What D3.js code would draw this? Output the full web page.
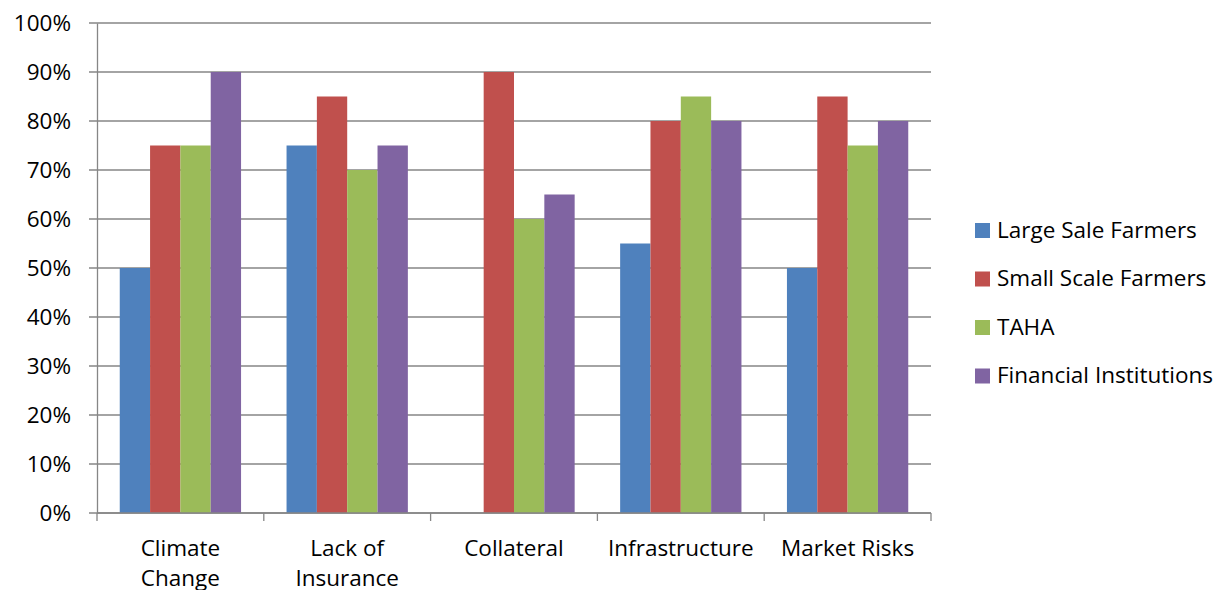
<!DOCTYPE html>
<html>
<head>
<meta charset="utf-8">
<script src="https://cdn.jsdelivr.net/npm/d3@7"></script>
<style>
  html, body { margin: 0; padding: 0; background: #fff; }
  svg { display: block; font-family: "Open Sans", "Noto Sans", sans-serif; }
</style>
</head>
<body>
<svg id="chart" width="1222" height="590"></svg>
<script>
// Chart data
const categories = ["Climate Change", "Lack of Insurance", "Collateral", "Infrastructure", "Market Risks"];
const seriesNames = ["Large Sale Farmers", "Small Scale Farmers", "TAHA", "Financial Institutions"];
const largeSale = [50, 75, 0, 55, 50];
const smallScale = [75, 85, 90, 80, 85];
const taha = [75, 70, 60, 85, 75];
const financial = [90, 75, 65, 80, 80];
const yTicks = [0, 10, 20, 30, 40, 50, 60, 70, 80, 90, 100];
const colors = ["#4F81BD", "#C0504D", "#9BBB59", "#8064A2"];

const seriesValues = [largeSale, smallScale, taha, financial];

const svg = d3.select("#chart");
const margin = { left: 97, right: 291, top: 23, bottom: 77 };
const W = 1222, H = 590;
const x0 = margin.left, x1 = W - margin.right;
const yTop = margin.top, yBot = H - margin.bottom;
const fontSize = 22.5;

const x = d3.scaleBand().domain(categories).range([x0, x1]).paddingInner(0).paddingOuter(0);
// Bars fill 4 slots with a 150% gap width split across both sides
const slot = x.bandwidth() / (4 + 1.5);
const xs = d3.scaleBand().domain(seriesNames).range([slot * 0.75, slot * 4.75]).padding(0);
const y = d3.scaleLinear().domain([0, 100]).range([yBot, yTop]);

const gridColor = "#868686";

// Horizontal gridlines
svg.append("g")
  .selectAll("line")
  .data(yTicks)
  .join("line")
  .attr("x1", x0 - 8).attr("x2", x1)
  .attr("y1", d => y(d)).attr("y2", d => y(d))
  .attr("stroke", gridColor).attr("stroke-width", 1.3);

// Bars
const groups = svg.append("g")
  .selectAll("g")
  .data(categories)
  .join("g")
  .attr("transform", c => `translate(${x(c)},0)`);

groups.selectAll("rect")
  .data((c, i) => seriesNames.map((s, j) => ({ s, j, v: seriesValues[j][i] })))
  .join("rect")
  .attr("x", d => xs(d.s))
  .attr("width", xs.bandwidth())
  .attr("y", d => y(d.v))
  .attr("height", d => y(0) - y(d.v))
  .attr("fill", d => colors[d.j]);

// Y axis
const yAxis = d3.axisLeft(y).tickValues(yTicks).tickFormat(d => d + "%").tickSize(0).tickPadding(26);
const gy = svg.append("g").attr("transform", `translate(${x0},0)`).call(yAxis);
gy.select(".domain").attr("stroke", gridColor).attr("stroke-width", 1.3);
gy.selectAll("text").attr("font-size", fontSize).attr("fill", "#000").attr("font-family", "Open Sans, sans-serif");

// X axis baseline with ticks at category boundaries
const gx = svg.append("g");
gx.append("line")
  .attr("x1", x0).attr("x2", x1).attr("y1", yBot).attr("y2", yBot)
  .attr("stroke", gridColor).attr("stroke-width", 1.3);
const boundaries = categories.map(c => x(c)).concat([x1]);
gx.selectAll("line.tick")
  .data(boundaries)
  .join("line")
  .attr("class", "tick")
  .attr("x1", d => d).attr("x2", d => d)
  .attr("y1", yBot).attr("y2", yBot + 8)
  .attr("stroke", gridColor).attr("stroke-width", 1.3);

// Category labels (wrapped into two lines where needed)
const labelLines = {
  "Climate Change": ["Climate", "Change"],
  "Lack of Insurance": ["Lack of", "Insurance"],
  "Collateral": ["Collateral"],
  "Infrastructure": ["Infrastructure"],
  "Market Risks": ["Market Risks"]
};
const lbl = svg.append("g").attr("font-size", fontSize).attr("fill", "#000").attr("text-anchor", "middle");
categories.forEach(c => {
  const t = lbl.append("text").attr("x", x(c) + x.bandwidth() / 2).attr("y", 556);
  labelLines[c].forEach((line, k) => {
    t.append("tspan").attr("x", x(c) + x.bandwidth() / 2).attr("dy", k === 0 ? 0 : 30).text(line);
  });
});

// Legend
const legend = svg.append("g").attr("transform", "translate(975,230)");
const li = legend.selectAll("g")
  .data(seriesNames)
  .join("g")
  .attr("transform", (d, i) => `translate(0,${i * 48.5})`);
li.append("rect").attr("x", 0).attr("y", -7).attr("width", 15).attr("height", 15)
  .attr("fill", (d, i) => colors[i]);
li.append("text").attr("x", 22).attr("y", 0).attr("dy", "0.35em")
  .attr("font-size", fontSize).attr("fill", "#000").text(d => d);
</script>
</body>
</html>
